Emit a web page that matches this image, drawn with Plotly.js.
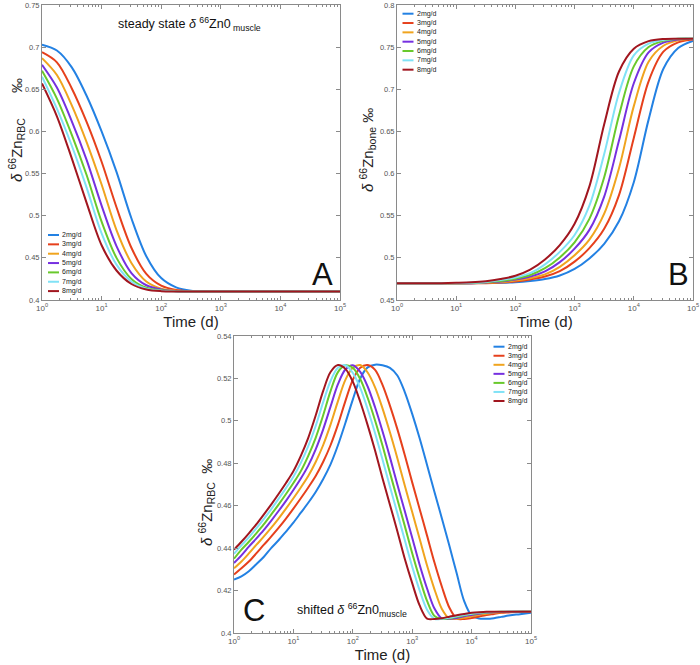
<!DOCTYPE html>
<html>
<head>
<meta charset="utf-8">
<script src="https://cdn.plot.ly/plotly-3.0.1.min.js"></script>
<style>html,body{margin:0;padding:0;background:#fff;}#chart{width:700px;height:665px;}</style>
</head>
<body>
<div id="chart"></div>
<script>
// ---------- data ----------
const seriesNames = ['2mg/d','3mg/d','4mg/d','5mg/d','6mg/d','7mg/d','8mg/d'];
const seriesColors = ['#2381e3','#e6401c','#f0a41e','#7630e0','#69c92c','#80e2f6','#a1161f'];

// log10(time, days) sampling for panels A and B
const logT_AB = [0,0.25,0.5,0.75,1,1.25,1.5,1.75,2,2.25,2.5,2.75,3,3.25,3.5,3.75,4,4.25,4.5,4.75,5];
// log10(time, days) sampling for panel C
const logT_C = [0,0.125,0.25,0.375,0.5,0.625,0.75,0.875,1,1.125,1.25,1.375,1.5,1.625,1.75,1.875,2,2.125,2.25,2.375,2.5,2.625,2.75,2.875,3,3.125,3.25,3.375,3.5,3.625,3.75,3.875,4,4.125,4.25,4.375,4.5,4.625,4.75,4.875,5];

// Panel A: steady state, d66Zn RBC
const rbcA_2 = [0.703,0.696,0.676,0.642,0.600,0.552,0.497,0.452,0.426,0.415,0.411,0.4103,0.41,0.41,0.41,0.41,0.41,0.41,0.41,0.41,0.41];
const rbcA_3 = [0.694,0.682,0.651,0.611,0.564,0.510,0.462,0.431,0.417,0.412,0.4105,0.41,0.41,0.41,0.41,0.41,0.41,0.41,0.41,0.41,0.41];
const rbcA_4 = [0.687,0.667,0.631,0.587,0.537,0.483,0.444,0.422,0.4135,0.411,0.4102,0.41,0.41,0.41,0.41,0.41,0.41,0.41,0.41,0.41,0.41];
const rbcA_5 = [0.679,0.652,0.612,0.566,0.512,0.464,0.432,0.4175,0.4125,0.4105,0.41,0.41,0.41,0.41,0.41,0.41,0.41,0.41,0.41,0.41,0.41];
const rbcA_6 = [0.672,0.639,0.596,0.548,0.493,0.450,0.425,0.4145,0.4115,0.4103,0.41,0.41,0.41,0.41,0.41,0.41,0.41,0.41,0.41,0.41,0.41];
const rbcA_7 = [0.665,0.627,0.583,0.533,0.479,0.442,0.422,0.4135,0.411,0.4102,0.41,0.41,0.41,0.41,0.41,0.41,0.41,0.41,0.41,0.41,0.41];
const rbcA_8 = [0.657,0.618,0.568,0.515,0.465,0.435,0.419,0.4125,0.4105,0.4101,0.41,0.41,0.41,0.41,0.41,0.41,0.41,0.41,0.41,0.41,0.41];

// Panel B: d66Zn bone
const boneB_2 = [0.47,0.47,0.47,0.47,0.47,0.47,0.4702,0.4704,0.471,0.4725,0.4748,0.479,0.4868,0.4993,0.5167,0.5434,0.5898,0.664,0.7243,0.749,0.7574];
const boneB_3 = [0.47,0.47,0.47,0.47,0.47,0.47,0.47,0.4707,0.4719,0.4744,0.4778,0.4842,0.4955,0.5115,0.5344,0.5744,0.6423,0.7095,0.7446,0.7557,0.7591];
const boneB_4 = [0.47,0.47,0.47,0.47,0.47,0.47,0.4704,0.4713,0.473,0.4758,0.4804,0.4894,0.5031,0.5216,0.5524,0.6063,0.68,0.7327,0.7516,0.758,0.7599];
const boneB_5 = [0.47,0.47,0.47,0.47,0.47,0.47,0.4708,0.4719,0.4742,0.4777,0.4839,0.4949,0.5109,0.5332,0.5727,0.6391,0.7072,0.7438,0.7554,0.7591,0.76];
const boneB_6 = [0.47,0.47,0.47,0.47,0.47,0.4703,0.4712,0.4726,0.4752,0.4796,0.4877,0.5005,0.5184,0.5463,0.5956,0.6692,0.7272,0.7501,0.7574,0.7599,0.76];
const boneB_7 = [0.47,0.47,0.47,0.47,0.4702,0.4706,0.4715,0.4736,0.4767,0.4819,0.4923,0.5071,0.5271,0.5619,0.6231,0.6956,0.7403,0.7542,0.7586,0.76,0.76];
const boneB_8 = [0.47,0.47,0.47,0.47,0.4704,0.471,0.4723,0.4749,0.4787,0.486,0.4981,0.5152,0.5405,0.5848,0.6585,0.7211,0.7481,0.7571,0.7597,0.76,0.76];

// Panel C: shifted, d66Zn RBC
const rbcC_2 = [0.4252,0.4267,0.4291,0.4324,0.4358,0.4400,0.4437,0.4478,0.4520,0.4567,0.4614,0.4665,0.4725,0.4795,0.4885,0.4990,0.5100,0.5200,0.5252,0.5265,0.5262,0.5250,0.5214,0.5136,0.5033,0.4918,0.4792,0.4665,0.4540,0.4412,0.4280,0.4150,0.4082,0.4068,0.4067,0.4070,0.4076,0.4082,0.4087,0.4091,0.4095];
const rbcC_3 = [0.4276,0.4305,0.4337,0.4375,0.4415,0.4454,0.4495,0.4539,0.4586,0.4635,0.4686,0.4740,0.4806,0.4885,0.4982,0.5093,0.5193,0.5250,0.5263,0.5240,0.5170,0.5072,0.4961,0.4839,0.4710,0.4585,0.4459,0.4332,0.4218,0.4120,0.4068,0.4066,0.4071,0.4078,0.4085,0.4090,0.4095,0.4097,0.4099,0.41,0.41];
const rbcC_4 = [0.4305,0.4337,0.4375,0.4415,0.4454,0.4495,0.4539,0.4586,0.4635,0.4686,0.4740,0.4806,0.4885,0.4982,0.5093,0.5193,0.5250,0.5263,0.5228,0.5158,0.5059,0.4946,0.4824,0.4695,0.4570,0.4444,0.4318,0.4206,0.4113,0.4068,0.4067,0.4072,0.4079,0.4086,0.4091,0.4095,0.4098,0.4099,0.41,0.41,0.41];
const rbcC_5 = [0.4330,0.4366,0.4407,0.4445,0.4485,0.4529,0.4575,0.4623,0.4674,0.4728,0.4789,0.4866,0.4959,0.5067,0.5173,0.5242,0.5262,0.5231,0.5162,0.5064,0.4951,0.4829,0.4700,0.4575,0.4449,0.4322,0.4210,0.4115,0.4068,0.4067,0.4071,0.4079,0.4085,0.4091,0.4095,0.4098,0.4099,0.41,0.41,0.41,0.41];
const rbcC_6 = [0.4350,0.4393,0.4430,0.4470,0.4512,0.4558,0.4605,0.4655,0.4707,0.4763,0.4835,0.4920,0.5025,0.5140,0.5230,0.5262,0.5250,0.5197,0.5109,0.5002,0.4884,0.4756,0.4630,0.4505,0.4376,0.4258,0.4151,0.4080,0.4066,0.4069,0.4076,0.4083,0.4089,0.4094,0.4097,0.4099,0.41,0.41,0.41,0.41,0.41];
const rbcC_7 = [0.4373,0.4413,0.4451,0.4493,0.4537,0.4583,0.4632,0.4683,0.4737,0.4802,0.4881,0.4976,0.5087,0.5188,0.5250,0.5262,0.5226,0.5155,0.5055,0.4942,0.4818,0.4690,0.4565,0.4438,0.4313,0.4201,0.4110,0.4067,0.4067,0.4072,0.4079,0.4086,0.4091,0.4096,0.4098,0.4099,0.41,0.41,0.41,0.41,0.41];
const rbcC_8 = [0.4393,0.4430,0.4470,0.4512,0.4558,0.4605,0.4655,0.4707,0.4763,0.4835,0.4920,0.5025,0.5140,0.5230,0.5263,0.5245,0.5185,0.5090,0.4980,0.4860,0.4730,0.4605,0.4480,0.4350,0.4235,0.4130,0.4068,0.4066,0.4070,0.4077,0.4084,0.4090,0.4095,0.4098,0.4100,0.4100,0.41,0.41,0.41,0.41,0.41];

const xTickVals = [1,10,100,1000,10000,100000];
const xTickText = ['10<sup>0</sup>','10<sup>1</sup>','10<sup>2</sup>','10<sup>3</sup>','10<sup>4</sup>','10<sup>5</sup>'];
const yTicksA = [0.4,0.45,0.5,0.55,0.6,0.65,0.7,0.75];
const yTickTextA = ['0.4','0.45','0.5','0.55','0.6','0.65','0.7','0.75'];
const yTicksB = [0.45,0.5,0.55,0.6,0.65,0.7,0.75,0.8];
const yTickTextB = ['0.45','0.5','0.55','0.6','0.65','0.7','0.75','0.8'];
const yTicksC = [0.4,0.42,0.44,0.46,0.48,0.5,0.52,0.54];
const yTickTextC = ['0.4','0.42','0.44','0.46','0.48','0.5','0.52','0.54'];

// ---------- figure ----------
const W = 700, H = 665;
const FONT = 'Liberation Sans, Arial, sans-serif';
const tA = logT_AB.map(e => Math.pow(10, e));
const tC = logT_C.map(e => Math.pow(10, e));
const setA = [rbcA_2, rbcA_3, rbcA_4, rbcA_5, rbcA_6, rbcA_7, rbcA_8];
const setB = [boneB_2, boneB_3, boneB_4, boneB_5, boneB_6, boneB_7, boneB_8];
const setC = [rbcC_2, rbcC_3, rbcC_4, rbcC_5, rbcC_6, rbcC_7, rbcC_8];

const traces = [];
function addSet(set, t, xa, ya) {
  set.forEach((ys, i) => traces.push({
    type: 'scatter', mode: 'lines', x: t, y: ys, xaxis: xa, yaxis: ya,
    name: seriesNames[i], showlegend: false,
    line: {color: seriesColors[i], width: 2, shape: 'spline', smoothing: 0.9}
  }));
}
addSet(setA, tA, 'x', 'y');
addSet(setB, tA, 'x2', 'y2');
addSet(setC, tC, 'x3', 'y3');

const px = v => v / W, py = v => 1 - v / H;
function xAxis(x0, x1, anchor) {
  return {
    type: 'log', domain: [px(x0), px(x1)], anchor: anchor, range: [0, 5],
    tickmode: 'array', tickvals: xTickVals, ticktext: xTickText,
    ticks: 'inside', ticklen: 4, tickcolor: '#8a8a8a',
    showline: true, linecolor: '#8a8a8a', linewidth: 1, mirror: 'ticks',
    showgrid: false, zeroline: false,
    tickfont: {size: 8, color: '#555', family: FONT},
    minor: {ticks: 'inside', ticklen: 2, tickcolor: '#8a8a8a', dtick: 'D1', showgrid: false},
    title: {text: 'Time (d)', font: {size: 15, color: '#222', family: FONT}, standoff: 4},
    fixedrange: true
  };
}
function yAxis(y0, y1, anchor, range, vals, txt) {
  return {
    domain: [py(y1), py(y0)], anchor: anchor, range: range,
    tickmode: 'array', tickvals: vals, ticktext: txt,
    ticks: 'inside', ticklen: 4, tickcolor: '#8a8a8a',
    showline: true, linecolor: '#8a8a8a', linewidth: 1, mirror: 'ticks',
    showgrid: false, zeroline: false,
    tickfont: {size: 7.5, color: '#555', family: FONT},
    fixedrange: true
  };
}

const annotations = [];
const shapes = [];
function legendAt(x0, y0, rowH) {
  seriesNames.forEach((n, i) => {
    const y = y0 + i * rowH;
    shapes.push({type: 'line', xref: 'paper', yref: 'paper', x0: px(x0), x1: px(x0 + 11), y0: py(y), y1: py(y),
      line: {color: seriesColors[i], width: 2}});
    annotations.push({xref: 'paper', yref: 'paper', x: px(x0 + 12), y: py(y), xanchor: 'left', yanchor: 'middle',
      text: n, showarrow: false, font: {size: 7, color: '#222', family: FONT}});
  });
}
legendAt(48, 235, 9.35);
legendAt(402.5, 13.7, 9.33);
legendAt(493.5, 346.7, 9.05);

function bigLetter(t, x, y) {
  annotations.push({xref: 'paper', yref: 'paper', x: px(x), y: py(y), xanchor: 'center', yanchor: 'middle',
    text: t, showarrow: false, font: {size: 31, color: '#111', family: FONT}});
}
bigLetter('A', 322, 274);
bigLetter('B', 678, 274);
bigLetter('C', 254, 610);

// y-axis titles (rotated text)
function yTitle(sub, gap, x, y) {
  annotations.push({xref: 'paper', yref: 'paper', x: px(x), y: py(y), xanchor: 'center', yanchor: 'middle',
    textangle: -90, showarrow: false,
    text: '<i>δ</i> <sup>66</sup>Zn<sub>' + sub + '</sub>' + '\u00a0'.repeat(gap) + '‰',
    font: {size: 15, color: '#222', family: FONT}});
}
yTitle('RBC', 6, 16, 130);
yTitle('bone', 1, 367, 150);
yTitle('RBC', 2, 206, 502);

annotations.push({xref: 'paper', yref: 'paper', x: px(189), y: py(24), xanchor: 'center', yanchor: 'middle',
  text: 'steady state <i>δ</i> <sup>66</sup>Zn0<sub> muscle</sub>', showarrow: false,
  font: {size: 12.5, color: '#111', family: FONT}});
annotations.push({xref: 'paper', yref: 'paper', x: px(352), y: py(610), xanchor: 'center', yanchor: 'middle',
  text: 'shifted <i>δ</i> <sup>66</sup>Zn0<sub>muscle</sub>', showarrow: false,
  font: {size: 12.5, color: '#111', family: FONT}});

const layout = {
  width: W, height: H,
  margin: {l: 0, r: 0, t: 0, b: 0},
  paper_bgcolor: '#fff', plot_bgcolor: '#fff',
  showlegend: false,
  font: {family: FONT},
  xaxis: xAxis(42, 340, 'y'),
  yaxis: yAxis(5, 300, 'x', [0.4, 0.75], yTicksA, yTickTextA),
  xaxis2: xAxis(397, 693, 'y2'),
  yaxis2: yAxis(5, 300, 'x2', [0.45, 0.8], yTicksB, yTickTextB),
  xaxis3: xAxis(234, 531, 'y3'),
  yaxis3: yAxis(336, 633, 'x3', [0.4, 0.54], yTicksC, yTickTextC),
  annotations: annotations,
  shapes: shapes
};

Plotly.newPlot('chart', traces, layout, {staticPlot: true, displayModeBar: false});
</script>
</body>
</html>
